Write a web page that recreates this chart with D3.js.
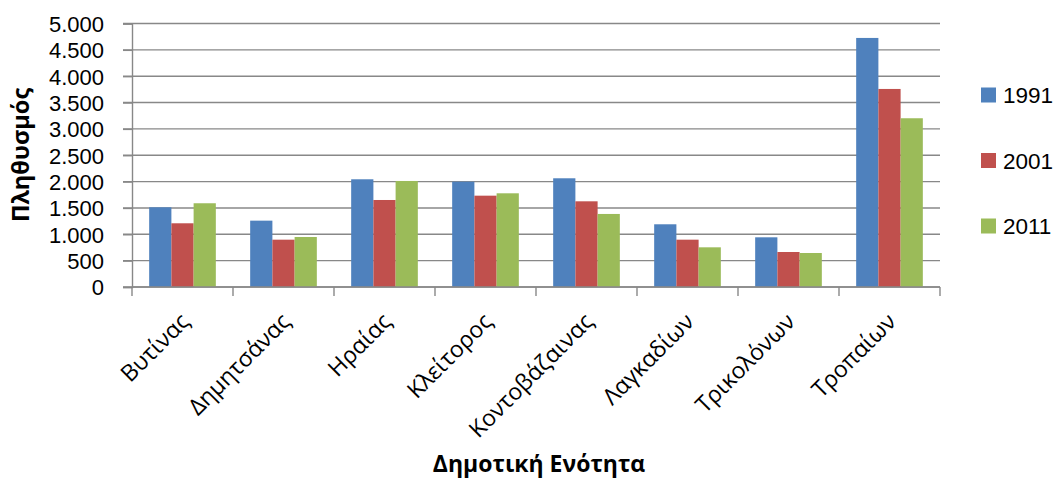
<!DOCTYPE html>
<html><head><meta charset="utf-8">
<script src="https://cdn.jsdelivr.net/npm/d3@7"></script>
<style>body{margin:0;background:#fff}svg{display:block}</style>
</head><body>
<svg id="chart" width="1059" height="481"></svg>
<script>
const categories = ["Βυτίνας","Δημητσάνας","Ηραίας","Κλείτορος","Κοντοβάζαινας","Λαγκαδίων","Τρικολόνων","Τροπαίων"];
const seriesNames = ["1991","2001","2011"];
const values1991 = [1513,1259,2044,1999,2063,1190,943,4726];
const values2001 = [1209,898,1651,1733,1626,898,664,3758];
const values2011 = [1589,949,2012,1778,1386,753,645,3202];
const yTicks = [0,500,1000,1500,2000,2500,3000,3500,4000,4500,5000];
const colors = ["#4F81BD","#C0504D","#9BBB59"];

const series = [values1991, values2001, values2011];
const svg = d3.select("#chart");
const font = "'Open Sans', sans-serif";
const tickFont = "'Liberation Sans', Arial, sans-serif";
const L = 132, R = 940, T = 23.5, B = 287;

const x = d3.scaleBand().domain(categories).range([L, R]).paddingInner(0.34).paddingOuter(0.17);
const xs = d3.scaleBand().domain(seriesNames).range([0, x.bandwidth()]);
const y = d3.scaleLinear().domain([0, 5000]).range([B, T]);
const fmt = v => d3.format(",")(v).replace(/,/g, ".");

// gridlines
svg.append("g").selectAll("line").data(yTicks).join("line")
  .attr("x1", L - 9).attr("x2", R).attr("y1", d => y(d)).attr("y2", d => y(d))
  .attr("stroke", "#888").attr("stroke-width", 1.4);

// bars
const groups = svg.append("g").selectAll("g").data(categories).join("g")
  .attr("transform", d => `translate(${x(d)},0)`);
groups.selectAll("rect").data((c, i) => seriesNames.map((s, j) => ({s, v: series[j][i], j})))
  .join("rect")
  .attr("x", d => xs(d.s)).attr("width", xs.bandwidth())
  .attr("y", d => y(d.v)).attr("height", d => y(0) - y(d.v))
  .attr("fill", d => colors[d.j]);

// y axis
const yAxis = svg.append("g").attr("transform", `translate(${L},0)`)
  .call(d3.axisLeft(y).tickValues(yTicks).tickFormat(fmt).tickSize(9).tickPadding(19));
yAxis.select(".domain").attr("stroke", "#888").attr("stroke-width", 1.4);
yAxis.selectAll(".tick line").attr("stroke", "#888").attr("stroke-width", 1.4);
yAxis.selectAll("text").attr("font-family", tickFont).attr("font-size", 22).attr("fill", "#000").attr("dy", "0.36em");

// x axis
const boundaries = d3.range(categories.length + 1).map(i => L + i * (R - L) / categories.length);
svg.append("line").attr("x1", L).attr("x2", R).attr("y1", B).attr("y2", B)
  .attr("stroke", "#888").attr("stroke-width", 1.4);
svg.append("g").selectAll("line").data(boundaries).join("line")
  .attr("x1", d => d).attr("x2", d => d).attr("y1", B).attr("y2", B + 9)
  .attr("stroke", "#888").attr("stroke-width", 1.4);
svg.append("g").selectAll("text").data(categories).join("text")
  .attr("transform", d => `translate(${x(d) + x.bandwidth() / 2 + 8},${B + 36}) rotate(-45)`)
  .attr("text-anchor", "end")
  .attr("font-family", font).attr("font-size", 23).attr("fill", "#000")
  .text(d => d);

// axis titles
svg.append("text").attr("transform", "translate(29,155) rotate(-90)")
  .attr("text-anchor", "middle").attr("font-family", font).attr("font-weight", "bold")
  .attr("font-size", 23.5).text("Πληθυσμός");
svg.append("text").attr("x", 539).attr("y", 472)
  .attr("text-anchor", "middle").attr("font-family", font).attr("font-weight", "bold")
  .attr("font-size", 23).text("Δημοτική Ενότητα");

// legend
const leg = svg.append("g").selectAll("g").data(seriesNames).join("g")
  .attr("transform", (d, i) => `translate(981,${95 + i * 65.5})`);
leg.append("rect").attr("x", 0).attr("y", -7.5).attr("width", 15).attr("height", 15)
  .attr("fill", (d, i) => colors[i]);
leg.append("text").attr("x", 22).attr("y", 0).attr("dy", "0.36em")
  .attr("font-family", tickFont).attr("font-size", 22.5).text(d => d);
</script>
</body></html>
